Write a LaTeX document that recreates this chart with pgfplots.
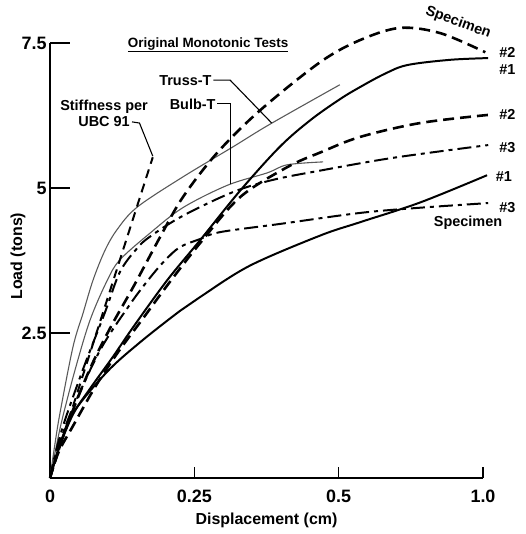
\documentclass[border=0pt]{standalone}
\usepackage{fontspec}
\setmainfont{Liberation Sans}
\usepackage{pgfplots}
\pgfplotsset{compat=1.18}
\begin{document}
\begin{tikzpicture}[lbl/.style={font=\fontsize{14.5}{17}\selectfont\bfseries, inner sep=0pt}]
\begin{axis}[name=ax, at={(0,0)}, anchor=south west,
  scale only axis, width=433bp, height=435bp,
  xmin=0, xmax=0.75, ymin=0, ymax=7.5,
  axis x line=bottom, axis y line=left,
  axis line style={line width=1.8pt, -},
  every outer x axis line/.append style={-},
  every outer y axis line/.append style={-},
  xtick={0,0.25,0.5,0.75}, xticklabels={\makebox[0pt][r]{0\hspace{-5bp}},0.25,0.5,1.0},
  ytick={2.5,5,7.5}, yticklabels={2.5,5,7.5},
  tick align=inside,
  xtick style={line width=1.5pt, black, /pgfplots/major tick length=11bp},
  ytick style={line width=1.5pt, black, /pgfplots/major tick length=20bp},
  ticklabel style={font=\fontsize{18}{21}\selectfont\bfseries},
  xticklabel style={yshift=-8bp},
  xlabel={Displacement (cm)}, ylabel={Load (tons)},
  label style={font=\fontsize{16}{19}\selectfont\bfseries},
  xlabel style={at={(axis description cs:0.5,-0.097)}, anchor=center},
  ylabel style={at={(axis description cs:-0.074,0.51)}, anchor=center},
  clip=false,
  every axis plot/.append style={smooth, tension=0.55, black},
]
% Truss-T (noisy grey)
\addplot[line width=1.1pt, black!65] coordinates {
 (0,0) (0.008,0.55) (0.0173,1.12) (0.0398,2.26) (0.0572,2.84) (0.0745,3.41) (0.095,3.92)
 (0.116,4.28) (0.151,4.67) (0.230,5.19) (0.317,5.71) (0.381,6.10) (0.502,6.78)};
% Bulb-T (noisy grey)
\addplot[line width=1.1pt, black!65] coordinates {
 (0,0) (0.01,0.5) (0.0208,1.00) (0.0433,1.86) (0.0693,2.72) (0.0988,3.40)
 (0.121,3.76) (0.173,4.22) (0.230,4.66) (0.308,5.05) (0.376,5.26) (0.411,5.40) (0.473,5.45)};
% Stiffness per UBC 91
\addplot[line width=2pt, dash pattern=on 9bp off 6bp, sharp plot] coordinates {(0,0) (0.178,5.53)};
% Specimen #2 (top, heavy dashed)
\addplot[line width=2.6pt, dash pattern=on 11bp off 6bp] coordinates {
 (0,0) (0.012,0.4) (0.035,1.05) (0.07,1.9) (0.105,2.6) (0.144,3.29) (0.191,4.16)
 (0.230,4.84) (0.289,5.60) (0.364,6.34) (0.468,7.17) (0.537,7.55) (0.606,7.76)
 (0.676,7.67) (0.754,7.34)};
% Specimen #1 (upper solid)
\addplot[line width=2pt] coordinates {
 (0,0) (0.015,0.5) (0.04,1.1) (0.07,1.55) (0.109,2.09) (0.144,2.60) (0.203,3.41)
 (0.260,4.10) (0.329,4.95) (0.398,5.71) (0.451,6.17) (0.502,6.53) (0.537,6.74)
 (0.580,6.97) (0.619,7.12) (0.693,7.21) (0.759,7.24)};
% Specimen #2 (middle heavy dashed)
\addplot[line width=2.6pt, dash pattern=on 11bp off 6bp] coordinates {
 (0,0) (0.015,0.45) (0.04,0.9) (0.08,1.6) (0.12,2.2) (0.161,2.75) (0.203,3.32)
 (0.260,4.05) (0.329,4.84) (0.411,5.36) (0.47,5.62) (0.537,5.88) (0.641,6.12) (0.759,6.26)};
% Specimen #3 (upper dash-dot)
\addplot[line width=2pt, dash pattern=on 14bp off 5bp on 4bp off 5bp] coordinates {
 (0,0) (0.01,0.45) (0.026,1.00) (0.06,1.95) (0.095,2.85) (0.121,3.55) (0.150,3.95)
 (0.173,4.16) (0.230,4.52) (0.317,4.93) (0.386,5.14) (0.468,5.30) (0.594,5.52) (0.759,5.74)};
% Specimen #3 (lower dash-dot)
\addplot[line width=2pt, dash pattern=on 14bp off 5bp on 4bp off 5bp] coordinates {
 (0,0) (0.012,0.45) (0.035,1.1) (0.0866,2.2) (0.139,3.0) (0.173,3.45) (0.199,3.75)
 (0.225,3.98) (0.260,4.12) (0.295,4.24) (0.398,4.38) (0.537,4.57) (0.641,4.66) (0.759,4.74)};
% Specimen #1 (lower solid)
\addplot[line width=2pt] coordinates {
 (0,0) (0.0173,0.57) (0.0398,1.12) (0.0988,1.83) (0.156,2.34) (0.225,2.88) (0.260,3.12)
 (0.346,3.66) (0.468,4.18) (0.537,4.41) (0.641,4.75) (0.757,5.22)};

% annotations
\node[lbl, font=\fontsize{13.5}{16}\selectfont\bfseries] at (axis cs:0.274,7.47) {\underline{Original Monotonic Tests}};
\node[lbl, anchor=east] at (axis cs:0.280,6.86) {Truss-T};
\draw[line width=1.1pt] (axis cs:0.283,6.86) -- (axis cs:0.312,6.86) -- (axis cs:0.384,6.12);
\node[lbl, anchor=east] at (axis cs:0.287,6.45) {Bulb-T};
\draw[line width=1.1pt] (axis cs:0.290,6.45) -- (axis cs:0.312,6.45) -- (axis cs:0.312,5.07);
\node[lbl, align=center] at (axis cs:0.0936,6.29) {Stiffness per\\[-1pt]UBC 91};
\draw[line width=1.1pt] (axis cs:0.142,6.14) -- (axis cs:0.155,6.12) -- (axis cs:0.178,5.55);
\node[lbl, rotate=-20] at (axis cs:0.707,7.85) {Specimen};
\node[lbl, anchor=west] at (axis cs:0.778,7.34) {\#2};
\node[lbl, anchor=west] at (axis cs:0.778,7.05) {\#1};
\node[lbl, anchor=west] at (axis cs:0.778,6.26) {\#2};
\node[lbl, anchor=west] at (axis cs:0.778,5.69) {\#3};
\node[lbl, anchor=west] at (axis cs:0.772,5.19) {\#1};
\node[lbl, anchor=west] at (axis cs:0.778,4.67) {\#3};
\node[lbl] at (axis cs:0.724,4.40) {Specimen};
\end{axis}
\pgfresetboundingbox
\path (ax.south west) ++(-50bp,-56bp) rectangle ++(526bp,534bp);
\end{tikzpicture}
\end{document}
